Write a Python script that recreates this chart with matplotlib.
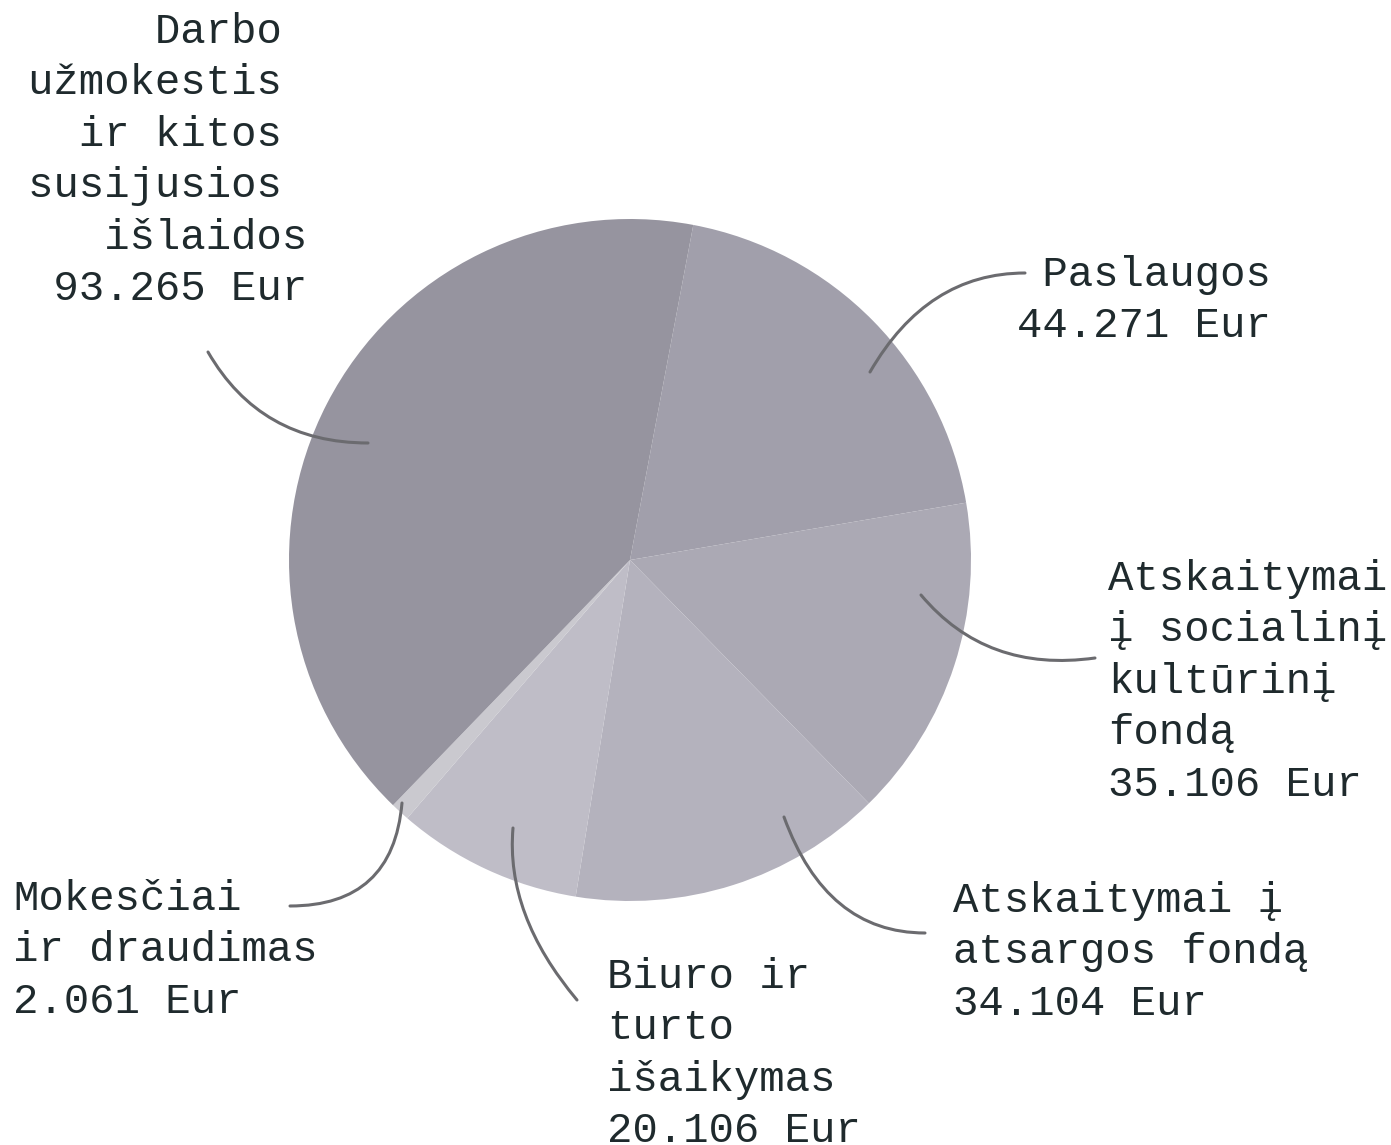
import matplotlib.pyplot as plt

W, H = 1391, 1145

# slices, clockwise from the top
names = ["Paslaugos",
         "Atskaitymai\nį socialinį\nkultūrinį\nfondą",
         "Atskaitymai į\natsargos fondą",
         "Biuro ir\nturto\nišaikymas",
         "Mokesčiai\nir draudimas",
         "Darbo\nužmokestis\nir kitos\nsusijusios\nišlaidos"]
values = [44.271, 35.106, 34.104, 20.106, 2.061, 93.265]
colors = ["#a19fab", "#aba9b4", "#b4b2bd", "#bfbdc7", "#cac9cf", "#96949f"]


def px(x, y):
    # pixel position (from top left) -> data coords
    return x, H - y


def label_text(i):
    lines = names[i].split("\n") + ["%.3f Eur" % values[i]]
    if i == 5:
        # right aligned block with trailing spaces on the word lines
        lines = [(l + " ") if k < 4 else l for k, l in enumerate(lines)]
        width = max(len(l) for l in lines)
        lines = [" " * (width - len(l)) + l for l in lines]
    if i == 0:
        lines = [" " + lines[0], lines[1]]
    return "\n".join(lines)


fig = plt.figure(figsize=(W / 100, H / 100), dpi=100)
ax = fig.add_axes([0, 0, 1, 1])

ax.pie(values, colors=colors, startangle=79.3, counterclock=False,
       center=px(630, 560), radius=341, frame=True,
       wedgeprops=dict(linewidth=0))
ax.set_xlim(0, W)
ax.set_ylim(0, H)
ax.set_aspect("equal")
ax.axis("off")

# text block positions (left, top) and leader lines
text_pos = [(1017, 255), (1108, 559), (953, 881), (607, 957), (13, 879), (28, 12)]
leaders = [((870, 372), (1025, 273), 0, 60),
           ((921, 595), (1095, 658), 8, -50),
           ((784, 817), (925, 933), 0, -70),
           ((513, 828), (577, 1000), -50, 85),
           ((402, 803), (290, 906), 0, 85),
           ((368, 443), (208, 352), -60, 0)]

for i in range(len(values)):
    tx, ty = text_pos[i]
    ax.text(*px(tx, ty), label_text(i), ha="left", va="top",
            family="Liberation Mono", fontsize=30.5, color="#1f2a2d",
            linespacing=1.37)
    a, b, angA, angB = leaders[i]
    ax.annotate("", xy=px(*a), xytext=px(*b),
                arrowprops=dict(arrowstyle="-", color="#6b6b6f", lw=2.2,
                                shrinkA=0, shrinkB=0,
                                connectionstyle="angle3,angleA=%d,angleB=%d" % (angA, angB)))

fig.savefig("out.png", dpi=100, facecolor="white")
